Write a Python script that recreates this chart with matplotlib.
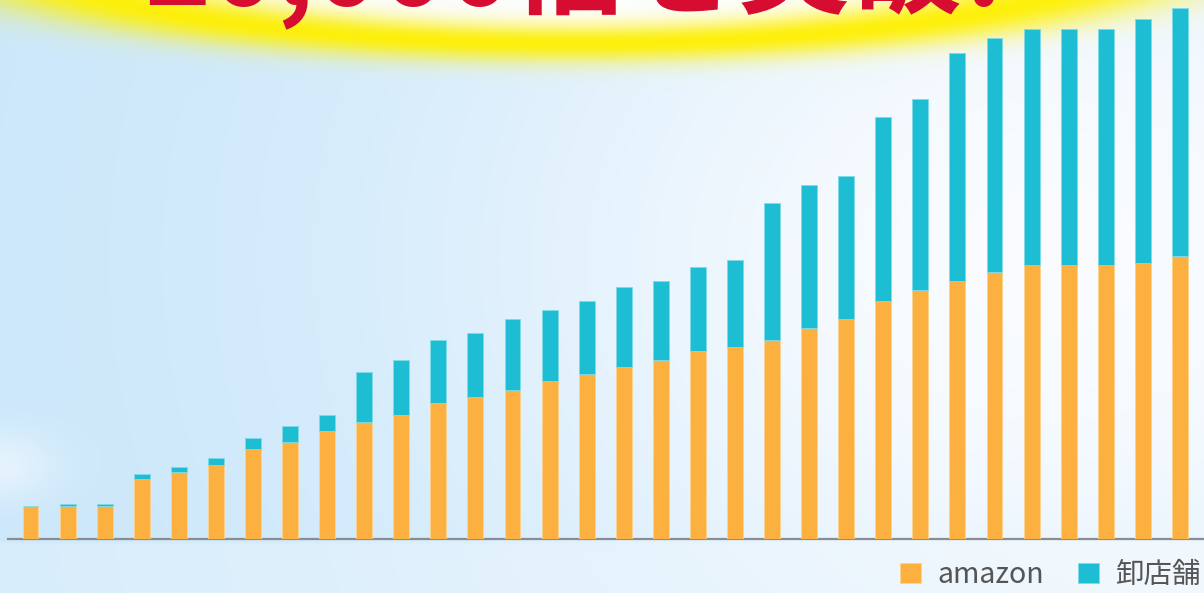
import numpy as np
import matplotlib
matplotlib.use("Agg")
import matplotlib.pyplot as plt

plt.rcParams['font.family'] = ['Noto Sans CJK JP', 'DejaVu Sans']

# ── Data (relative heights) ───────────────────────────────────────────────────
amazon = [33, 33, 33, 60, 67, 74, 90, 97, 108, 117, 124, 136, 142, 149, 158, 165,
          172, 179, 188, 192, 199, 211, 220, 238, 249, 258, 267, 274, 274, 274, 276, 283]
wholesale = [0, 2, 2, 5, 5, 7, 11, 16, 16, 50, 55, 63, 64, 71, 71, 73,
             80, 79, 84, 87, 137, 143, 143, 184, 191, 228, 234, 236, 236, 236, 244, 248]
series_names = ["amazon", "卸店舗"]
title = "20,000倍を突破!"

C_AMZ = "#fbb040"
C_WHS = "#1dbed4"
C_RED = "#d60c30"

W, H = 1204, 593
fig = plt.figure(figsize=(W / 100, H / 100), dpi=100)

# ── Sky background ────────────────────────────────────────────────────────────
yy, xx = np.mgrid[0:H, 0:W].astype(float)
blue = np.array([198, 229, 250]) / 255
white = np.array([250, 252, 255]) / 255
d = np.hypot(xx - 1050, (yy - 260) * 1.2)
w = 0.08 + 0.92 * np.exp(-d ** 2 / (2 * 440 ** 2))
img = blue * (1 - w[..., None]) + white * w[..., None]
# faint cloud at lower left
cl = np.exp(-(((xx - 0) / 55) ** 2 + ((yy - 465) / 35) ** 2))
img = img * (1 - 0.55 * cl[..., None]) + white * 0.55 * cl[..., None]
# strip under the baseline
below = np.clip((yy - 539) / 6, 0, 1)[..., None]
strip = np.array([224, 241, 252]) / 255 * (1 - xx[..., None] / W) + \
        np.array([246, 250, 254]) / 255 * (xx[..., None] / W)
img = img * (1 - below * 0.6) + strip * below * 0.6

# glow behind the title: white inside, yellow rim
r = np.sqrt(((xx - 575) / 575) ** 2 + ((yy + 55) / 100) ** 2)
wa = 0.9 / (1 + np.exp(-(0.92 - r) / 0.04))
img = img * (1 - wa[..., None]) + np.ones(3) * wa[..., None]
ya = 0.95 * np.exp(-((r - 0.98) / 0.19) ** 2)
yellow = np.array([255, 240, 0]) / 255
img = img * (1 - ya[..., None]) + yellow * ya[..., None]

bg = fig.add_axes([0, 0, 1, 1])
bg.imshow(np.clip(img, 0, 1), extent=(0, W, H, 0), aspect='auto', interpolation='bilinear')
bg.set_xlim(0, W)
bg.set_ylim(H, 0)
bg.axis('off')

# ── Title (mostly cut off at the top) ─────────────────────────────────────────
bg.text(144, 5, title, ha='left', va='baseline', fontsize=81,
        fontweight='bold', color=C_RED)

# ── Bars ──────────────────────────────────────────────────────────────────────
ax = fig.add_axes([8 / W, 54 / H, 1196 / W, 539 / H])
ax.patch.set_alpha(0)
x = np.arange(len(amazon))
b1 = ax.bar(x, amazon, width=0.43, color=C_AMZ, edgecolor="#fcd38f", linewidth=0.6,
            label=series_names[0], zorder=3)
b2 = ax.bar(x, wholesale, bottom=amazon, width=0.43, color=C_WHS, edgecolor="#7fdbe8",
            linewidth=0.6, label=series_names[1], zorder=3)
ax.set_xlim(-0.607, 31.65)
ax.set_ylim(0, 539)
for s in ["top", "right", "left"]:
    ax.spines[s].set_visible(False)
ax.spines["bottom"].set_color("#878d93")
ax.spines["bottom"].set_linewidth(1.6)
ax.set_xticks([])
ax.set_yticks([])

# ── Legend ────────────────────────────────────────────────────────────────────
fig.legend(handles=[b1, b2], loc='lower left', bbox_to_anchor=(900 / W, 3 / H),
           ncol=2, frameon=False, fontsize=20.5, handlelength=0.75, handleheight=0.75,
           handletextpad=0.55, columnspacing=1.2, borderpad=0, borderaxespad=0,
           labelcolor="#555555")

fig.savefig("out.png", dpi=100)
